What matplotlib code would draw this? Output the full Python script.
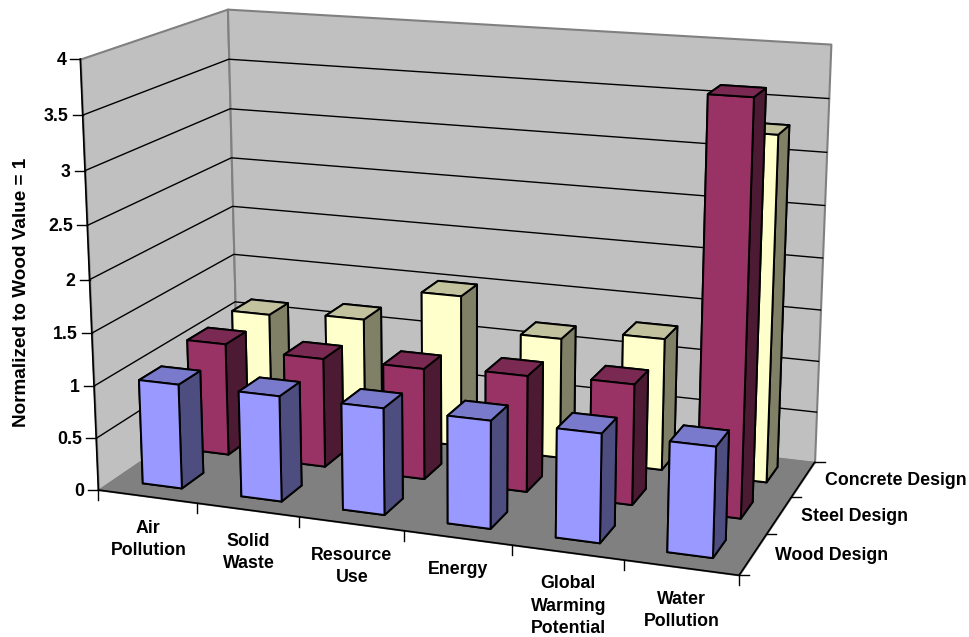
import matplotlib
matplotlib.use("Agg")
import matplotlib.pyplot as plt
from matplotlib.lines import Line2D
from matplotlib.transforms import IdentityTransform
from mpl_toolkits.mplot3d import proj3d
from mpl_toolkits.mplot3d.art3d import Poly3DCollection

categories = ['Air\nPollution', 'Solid\nWaste', 'Resource\nUse', 'Energy',
              'Global\nWarming\nPotential', 'Water\nPollution']
series_names = ['Wood Design', 'Steel Design', 'Concrete Design']
wood_values = [1.0, 1.0, 1.0, 1.0, 1.0, 1.0]
steel_values = [1.10, 1.06, 1.07, 1.11, 1.14, 3.8]
concrete_values = [1.12, 1.17, 1.50, 1.18, 1.28, 3.28]
z_ticks = [0, 0.5, 1, 1.5, 2, 2.5, 3, 3.5, 4]
z_tick_labels = ['0', '0.5', '1', '1.5', '2', '2.5', '3', '3.5', '4']

W, H = 969, 637
N_CAT = len(categories)
N_ROW = len(series_names)
Z_MAX = z_ticks[-1]
BAR_W = 0.4
BAR_D = 0.45

# per-series face colours: front, side, top
FACES = {
    'Wood Design': ('#9999FF', '#4D4D80', '#7A7ACC'),
    'Steel Design': ('#993366', '#4D1A33', '#7A2952'),
    'Concrete Design': ('#FFFFCC', '#808066', '#C2C29E'),
}

plt.rcParams['font.family'] = ['Liberation Sans', 'DejaVu Sans']
plt.rcParams['font.weight'] = 'bold'
plt.rcParams['font.size'] = 12.8

fig = plt.figure(figsize=(W / 100, H / 100), dpi=100)
side = 833.15
ax = fig.add_axes([34.16 / W, -59.5 / H, side / W, side / H], projection='3d', computed_zorder=False)
ax.set_xlim(0, N_CAT, view_margin=0)
ax.set_ylim(0, N_ROW, view_margin=0)
ax.set_zlim(0, Z_MAX, view_margin=0)
ax.view_init(14.99, -69.93, 0.04)
ax.set_proj_type('persp', focal_length=0.538)
ax.set_box_aspect((1.5033, 0.7467, 1.0))
ax.set_axis_off()

# walls and floor
left_wall = [(0, 0, 0), (0, N_ROW, 0), (0, N_ROW, Z_MAX), (0, 0, Z_MAX)]
back_wall = [(0, N_ROW, 0), (N_CAT, N_ROW, 0), (N_CAT, N_ROW, Z_MAX), (0, N_ROW, Z_MAX)]
floor = [(0, 0, 0), (N_CAT, 0, 0), (N_CAT, N_ROW, 0), (0, N_ROW, 0)]
ax.add_collection3d(Poly3DCollection([left_wall], facecolors='#C0C0C0', edgecolors='#808080', linewidths=1.5, zorder=1))
ax.add_collection3d(Poly3DCollection([back_wall], facecolors='#C0C0C0', edgecolors='#808080', linewidths=1.5, zorder=1))
ax.add_collection3d(Poly3DCollection([floor], facecolors='#808080', edgecolors='#808080', linewidths=1, zorder=1))

# gridlines run along the left wall and across the back wall
for z in z_ticks[1:-1]:
    ax.plot([0, 0, N_CAT], [0, N_ROW, N_ROW], [z, z, z], color='black', lw=1, zorder=2)

# axis edges that are drawn in black
ax.plot([0, 0], [0, 0], [0, Z_MAX], color='black', lw=1.2, zorder=3)
ax.plot([0, N_CAT, N_CAT], [0, 0, N_ROW], [0, 0, 0], color='black', lw=1.2, zorder=3)

# bars, back row first and right to left so nearer ones paint over
rows = [wood_values, steel_values, concrete_values]
order = 10
for r in range(N_ROW - 1, -1, -1):
    front, sidec, top = FACES[series_names[r]]
    for c in range(N_CAT - 1, -1, -1):
        # bar3d face order: bottom, top, front, back, left, right
        ax.bar3d(c + 0.3, r + 0.3, 0, BAR_W, BAR_D, rows[r][c],
                 color=[front, top, front, sidec, sidec, sidec], shade=False,
                 edgecolor='black', linewidth=1.4, zorder=order)
        order += 1

fig.canvas.draw()
M = ax.get_proj()


def to_px(x, y, z):
    u, v, _ = proj3d.proj_transform(x, y, z, M)
    return ax.transData.transform((u, v))


def tick(p, dx, dy):
    fig.add_artist(Line2D([p[0], p[0] + dx], [p[1], p[1] + dy], color='black', lw=1,
                          transform=IdentityTransform()))


def label(x, y, s, **kw):
    fig.text(x, y, s, transform=IdentityTransform(), **kw)


# value axis
for z, s in zip(z_ticks, z_tick_labels):
    p = to_px(0, 0, z)
    tick(p, -10, 0)
    label(p[0] - 14, p[1] - 1.5, s, ha='right', va='center')

# category axis
for c in range(N_CAT + 1):
    tick(to_px(c, 0, 0), 0, -10)
for c, s in enumerate(categories):
    p = to_px(c + 0.5, 0, 0)
    label(p[0] + 1, p[1] - 23, s, ha='center', va='top', linespacing=1.42)

# series axis
for r in range(N_ROW + 1):
    tick(to_px(N_CAT, r, 0), 10, 0)
for r, s in enumerate(series_names):
    p = to_px(N_CAT, r + 0.5, 0)
    label(p[0] + 22, p[1] - 1.5, s, ha='left', va='center')

fig.text(22 / W, 1 - 292 / H, 'Normalized to Wood Value = 1', rotation=90, ha='center', va='center', fontsize=13.6)

fig.savefig('out.png', dpi=100)
